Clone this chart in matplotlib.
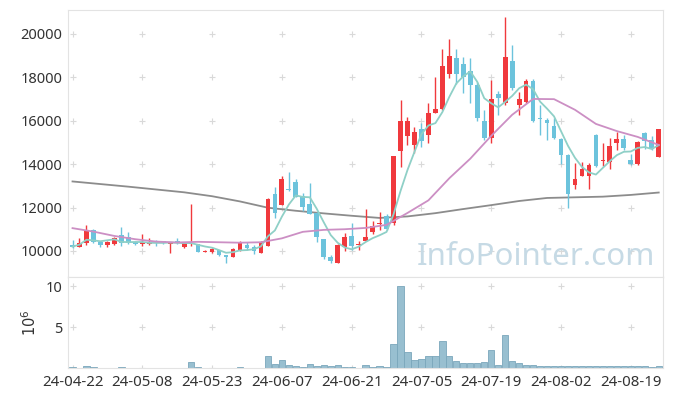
import matplotlib
matplotlib.use("Agg")
import matplotlib.pyplot as plt
import numpy as np
import pandas as pd

# daily candles, 24-04-22 .. 24-08-23
opens = [10280, 10200, 10350, 10970, 10430, 10280, 10310, 10740, 10620, 10420,
         10310, 10310, 10470, 10440, 10310, 10450, 10200, 10310, 10310, 9960,
         9950, 10050, 9820, 9740, 10050, 10280, 10170, 9920, 10240, 12630,
         12120, 12830, 13170, 12530, 12170, 11740, 10540, 9710, 9460, 10170,
         10690, 10270, 10470, 10890, 11230, 11610, 11280, 14580, 15300, 14880,
         15620, 15350, 16350, 16530, 18160, 18880, 18620, 18290, 17650, 15990,
         15220, 17220, 16800, 18760, 16730, 16870, 17830, 16110, 16040, 15760,
         15150, 14420, 13040, 13460, 13460, 15340, 14130, 14090, 14990, 15150,
         14190, 13990, 15420, 15110, 14340]
highs = [10500, 10580, 11200, 11000, 10480, 10480, 10620, 11090, 10890, 10480,
         10780, 10580, 10500, 10460, 10420, 10600, 10400, 12150, 10320, 10060,
         10130, 10060, 9830, 10130, 10480, 10400, 10280, 10480, 12450, 12950,
         13460, 13640, 13300, 12690, 13150, 11780, 10560, 9800, 10330, 10840,
         11280, 10470, 11940, 11400, 11810, 11700, 14360, 16960, 16160, 15730,
         15880, 16800, 18030, 19290, 19750, 19290, 18920, 18880, 17800, 16500,
         17880, 17350, 20770, 19480, 17330, 17900, 17900, 16730, 16100, 16100,
         15200, 14450, 14070, 14110, 14050, 15400, 14980, 15190, 15500, 15320,
         14470, 15050, 15480, 15300, 15620]
lows = [10140, 10160, 10280, 10380, 10200, 10200, 10290, 10250, 10300, 10280,
        10230, 10290, 10230, 10330, 9890, 10330, 10150, 10230, 9930, 9940,
        9890, 9790, 9430, 9730, 10000, 10050, 9850, 9900, 10230, 11500,
        12100, 12780, 12480, 11850, 11680, 10430, 9610, 9450, 9440, 10020,
        10060, 10050, 10460, 10780, 10970, 10970, 11200, 13880, 14880, 14500,
        14800, 14960, 16330, 16500, 17960, 17690, 17270, 16800, 16000, 15130,
        14990, 16250, 16730, 17400, 16250, 16800, 15950, 15350, 15100, 15150,
        14010, 11970, 12840, 13440, 12840, 13880, 13920, 13760, 14670, 14670,
        13980, 13980, 14700, 14630, 14330]
closes = [10200, 10380, 10970, 10400, 10280, 10430, 10590, 10380, 10350, 10310,
          10430, 10400, 10360, 10350, 10400, 10350, 10360, 10350, 9940, 10020,
          10080, 9800, 9740, 10080, 10430, 10150, 10000, 10400, 12400, 11770,
          13320, 12800, 12500, 12040, 11700, 10660, 9710, 9550, 10260, 10630,
          10230, 10300, 10630, 11150, 11300, 11000, 14350, 15990, 15990, 15480,
          15080, 16350, 16530, 18530, 19000, 18160, 17990, 17650, 16140, 15220,
          16990, 17060, 18920, 17500, 16990, 17830, 16000, 16060, 15880, 15220,
          14420, 12630, 13300, 13780, 13960, 13920, 14180, 14840, 15160, 14730,
          13990, 15010, 15040, 14700, 15610]
# volume in millions of shares
volumes = [0.08, 0.05, 0.2, 0.08, 0.05, 0.05, 0.05, 0.15, 0.05, 0.05,
           0.05, 0.05, 0.05, 0.05, 0.05, 0.05, 0.05, 0.7, 0.15, 0.05,
           0.05, 0.05, 0.05, 0.05, 0.12, 0.05, 0.05, 0.05, 1.5, 0.5,
           0.95, 0.4, 0.3, 0.12, 0.45, 0.3, 0.4, 0.3, 0.4, 0.15,
           0.15, 0.05, 0.4, 0.1, 0.2, 0.1, 2.9, 10.0, 2.0, 1.0,
           1.15, 1.45, 1.5, 3.25, 1.5, 0.8, 0.55, 0.55, 0.55, 0.7,
           2.15, 0.4, 4.0, 0.8, 0.55, 0.4, 0.4, 0.3, 0.2, 0.2,
           0.3, 0.3, 0.3, 0.2, 0.3, 0.3, 0.2, 0.3, 0.2, 0.2,
           0.2, 0.2, 0.2, 0.1, 0.3]

# 20-day and long moving averages
ma20_idx = [0, 3, 6, 9, 12, 15, 18, 21, 24, 27, 30, 33, 36, 39, 42, 45, 48,
            51, 54, 57, 60, 63, 66, 69, 72, 75, 78, 81, 84]
ma20_val = [11050, 10890, 10690, 10540, 10430, 10390, 10420, 10400, 10380, 10400,
            10580, 10880, 10970, 11000, 11060, 11200, 11750, 12330, 13350, 14250,
            15300, 16270, 17000, 16990, 16500, 15850, 15520, 15250, 14880]
malong_idx = [0, 4, 8, 12, 16, 20, 24, 28, 32, 36, 40, 44, 48, 52, 56, 60, 64,
              68, 72, 76, 80, 84]
malong_val = [13200, 13080, 12960, 12830, 12700, 12520, 12280, 11990, 11850, 11730,
              11620, 11520, 11590, 11740, 11930, 12110, 12300, 12440, 12470, 12500,
              12580, 12690]

tick_pos = [0, 10, 20, 30, 40, 50, 60, 70, 80]
tick_labels = ['24-04-22', '24-05-08', '24-05-23', '24-06-07', '24-06-21',
               '24-07-05', '24-07-19', '24-08-02', '24-08-19']

UP = '#f0393d'
DOWN = '#6cc3dc'
GRID = '#d9d9d9'
SPINE = '#e3e3e3'

plt.rcParams['font.family'] = ['Noto Sans', 'DejaVu Sans']

fig = plt.figure(figsize=(6.73, 3.96), dpi=100)
ax = fig.add_axes([0.101, 0.3005, 0.884, 0.6745])
axv = fig.add_axes([0.101, 0.0707, 0.884, 0.2298], sharex=ax)

x = np.arange(len(closes))
o = np.array(opens)
c = np.array(closes)
up = c >= o
cols = np.where(up, UP, DOWN)

ma5 = pd.Series(closes).rolling(5, min_periods=1).mean()

ax.plot(malong_idx, malong_val, color='#8c8c8c', lw=1.3, zorder=1)
ax.vlines(x, lows, highs, colors=cols, lw=1.0, zorder=2)
body = np.maximum(np.abs(c - o), 40)
ax.bar(x, body, bottom=np.minimum(o, c), width=0.68, color=cols, zorder=3)
ax.plot(x, ma5, color='#8fd0c7', lw=1.3, zorder=4)
ax.plot(ma20_idx, ma20_val, color='#cc8fc4', lw=1.3, zorder=4)

axv.bar(x, volumes, width=0.9, color='#98bfd0', edgecolor='#7aa7bb', lw=0.6)

ax.set_xlim(-0.65, 84.6)
ax.set_ylim(8800, 21100)
ax.set_yticks([10000, 12000, 14000, 16000, 18000, 20000])
axv.set_ylim(0, 11.1)
axv.set_yticks([5, 10])
axv.set_xticks(tick_pos)
axv.set_xticklabels(tick_labels)
axv.set_ylabel('$10^6$', fontsize=10.5, color='#333333', labelpad=4)
plt.setp(ax.get_xticklabels(), visible=False)

for a, yt in ((ax, [10000, 12000, 14000, 16000, 18000, 20000]), (axv, [0, 5, 10])):
    gx, gy = np.meshgrid(tick_pos, yt)
    a.scatter(gx.ravel(), gy.ravel(), marker='+', s=22, color=GRID, lw=0.8, zorder=0)
    for s in a.spines.values():
        s.set_color(SPINE)
    a.tick_params(axis='y', length=0, labelsize=10.5, labelcolor='#333333', pad=4)
    a.tick_params(axis='x', length=0, labelsize=10.8, labelcolor='#333333', pad=5)

ax.text(0.987, 0.018, 'InfoPointer.com', transform=ax.transAxes, ha='right', va='bottom',
        fontsize=22.5, color='#c6dae5', zorder=0)

fig.savefig('out.png', dpi=100)
